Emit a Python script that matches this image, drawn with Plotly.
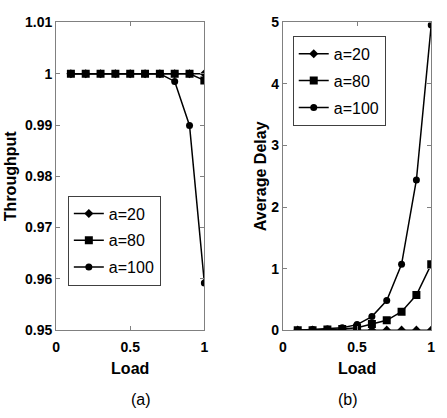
import plotly.graph_objects as go

load = [0.1, 0.2, 0.3, 0.4, 0.5, 0.6, 0.7, 0.8, 0.9, 1.0]

thr_a20 = [1, 1, 1, 1, 1, 1, 1, 1, 1, 1.0]
thr_a80 = [1, 1, 1, 1, 1, 1, 1, 1, 1, 0.9987]
thr_a100 = [1, 1, 1, 1, 1, 1, 1, 0.9985, 0.9899, 0.9592]

del_a20 = [0, 0, 0, 0, 0, 0, 0, 0, 0, 0]
del_a80 = [0.0, 0.0, 0.01, 0.02, 0.04, 0.1, 0.16, 0.30, 0.57, 1.07]
del_a100 = [0.0, 0.01, 0.02, 0.04, 0.09, 0.22, 0.48, 1.07, 2.44, 4.96]

series_names = ["a=20", "a=80", "a=100"]
symbols = ["diamond", "square", "circle"]
sizes = [7, 8, 7]

FONT = "Liberation Sans, Arial, sans-serif"

fig = go.Figure()

for name, ys, sym, sz in zip(series_names, [thr_a20, thr_a80, thr_a100], symbols, sizes):
    fig.add_trace(go.Scatter(x=load, y=ys, name=name, mode="lines+markers",
                             line=dict(color="black", width=1.5),
                             marker=dict(symbol=sym, size=sz, color="black"),
                             legendgroup="L" + name,
                             xaxis="x", yaxis="y", legend="legend"))
for name, ys, sym, sz in zip(series_names, [del_a20, del_a80, del_a100], symbols, sizes):
    fig.add_trace(go.Scatter(x=load, y=ys, name=name, mode="lines+markers",
                             line=dict(color="black", width=1.5),
                             marker=dict(symbol=sym, size=sz, color="black"),
                             legendgroup="R" + name,
                             xaxis="x2", yaxis="y2", legend="legend2"))

ax_common = dict(showline=True, linecolor="#808080", linewidth=1, mirror="ticks",
                 ticks="inside", ticklen=4, tickcolor="#808080", showgrid=False,
                 zeroline=False,
                 tickfont=dict(family=FONT, size=14, color="black", weight="bold"),
                 title_font=dict(family=FONT, size=16, color="black", weight="bold"))

leg_common = dict(xanchor="left", yanchor="top", bordercolor="#404040", borderwidth=1,
                  bgcolor="white", tracegroupgap=3, entrywidth=100, entrywidthmode="pixels",
                  font=dict(family=FONT, size=16, color="black"))

fig.update_layout(
    width=447, height=418, margin=dict(l=0, r=0, t=0, b=0),
    paper_bgcolor="white", plot_bgcolor="white",
    xaxis=dict(domain=[0.1186, 0.4564], range=[0, 1], tickvals=[0, 0.5, 1],
               ticktext=["0", "0.5", "1"], title=dict(text="Load", standoff=8),
               ticklabelstandoff=4, anchor="y", **ax_common),
    yaxis=dict(domain=[0.1986, 0.9641], range=[0.95, 1.01],
               tickvals=[0.95, 0.96, 0.97, 0.98, 0.99, 1.0, 1.01],
               ticktext=["0.95", "0.96", "0.97", "0.98", "0.99", "1", "1.01"],
               title=dict(text="Throughput", standoff=4), anchor="x", **ax_common),
    xaxis2=dict(domain=[0.6353, 0.9732], range=[0, 1], tickvals=[0, 0.5, 1],
                ticktext=["0", "0.5", "1"], title=dict(text="Load", standoff=8),
                ticklabelstandoff=4, anchor="y2", **ax_common),
    yaxis2=dict(domain=[0.1986, 0.9641], range=[0, 5], tickvals=[0, 1, 2, 3, 4, 5],
                title=dict(text="Average Delay", standoff=0), anchor="x2", **ax_common),
    legend=dict(x=65 / 447, y=(418 - 195) / 418, **leg_common),
    legend2=dict(x=294 / 447, y=(418 - 29) / 418, **leg_common),
    annotations=[
        dict(text="(a)", x=127 / 447, y=(418 - 407) / 418, xref="paper", yref="paper",
             yanchor="middle", showarrow=False, font=dict(family=FONT, size=16, color="black")),
        dict(text="(b)", x=362 / 447, y=(418 - 407) / 418, xref="paper", yref="paper",
             yanchor="middle", showarrow=False, font=dict(family=FONT, size=16, color="black")),
    ],
)

fig.write_html("out.html")
